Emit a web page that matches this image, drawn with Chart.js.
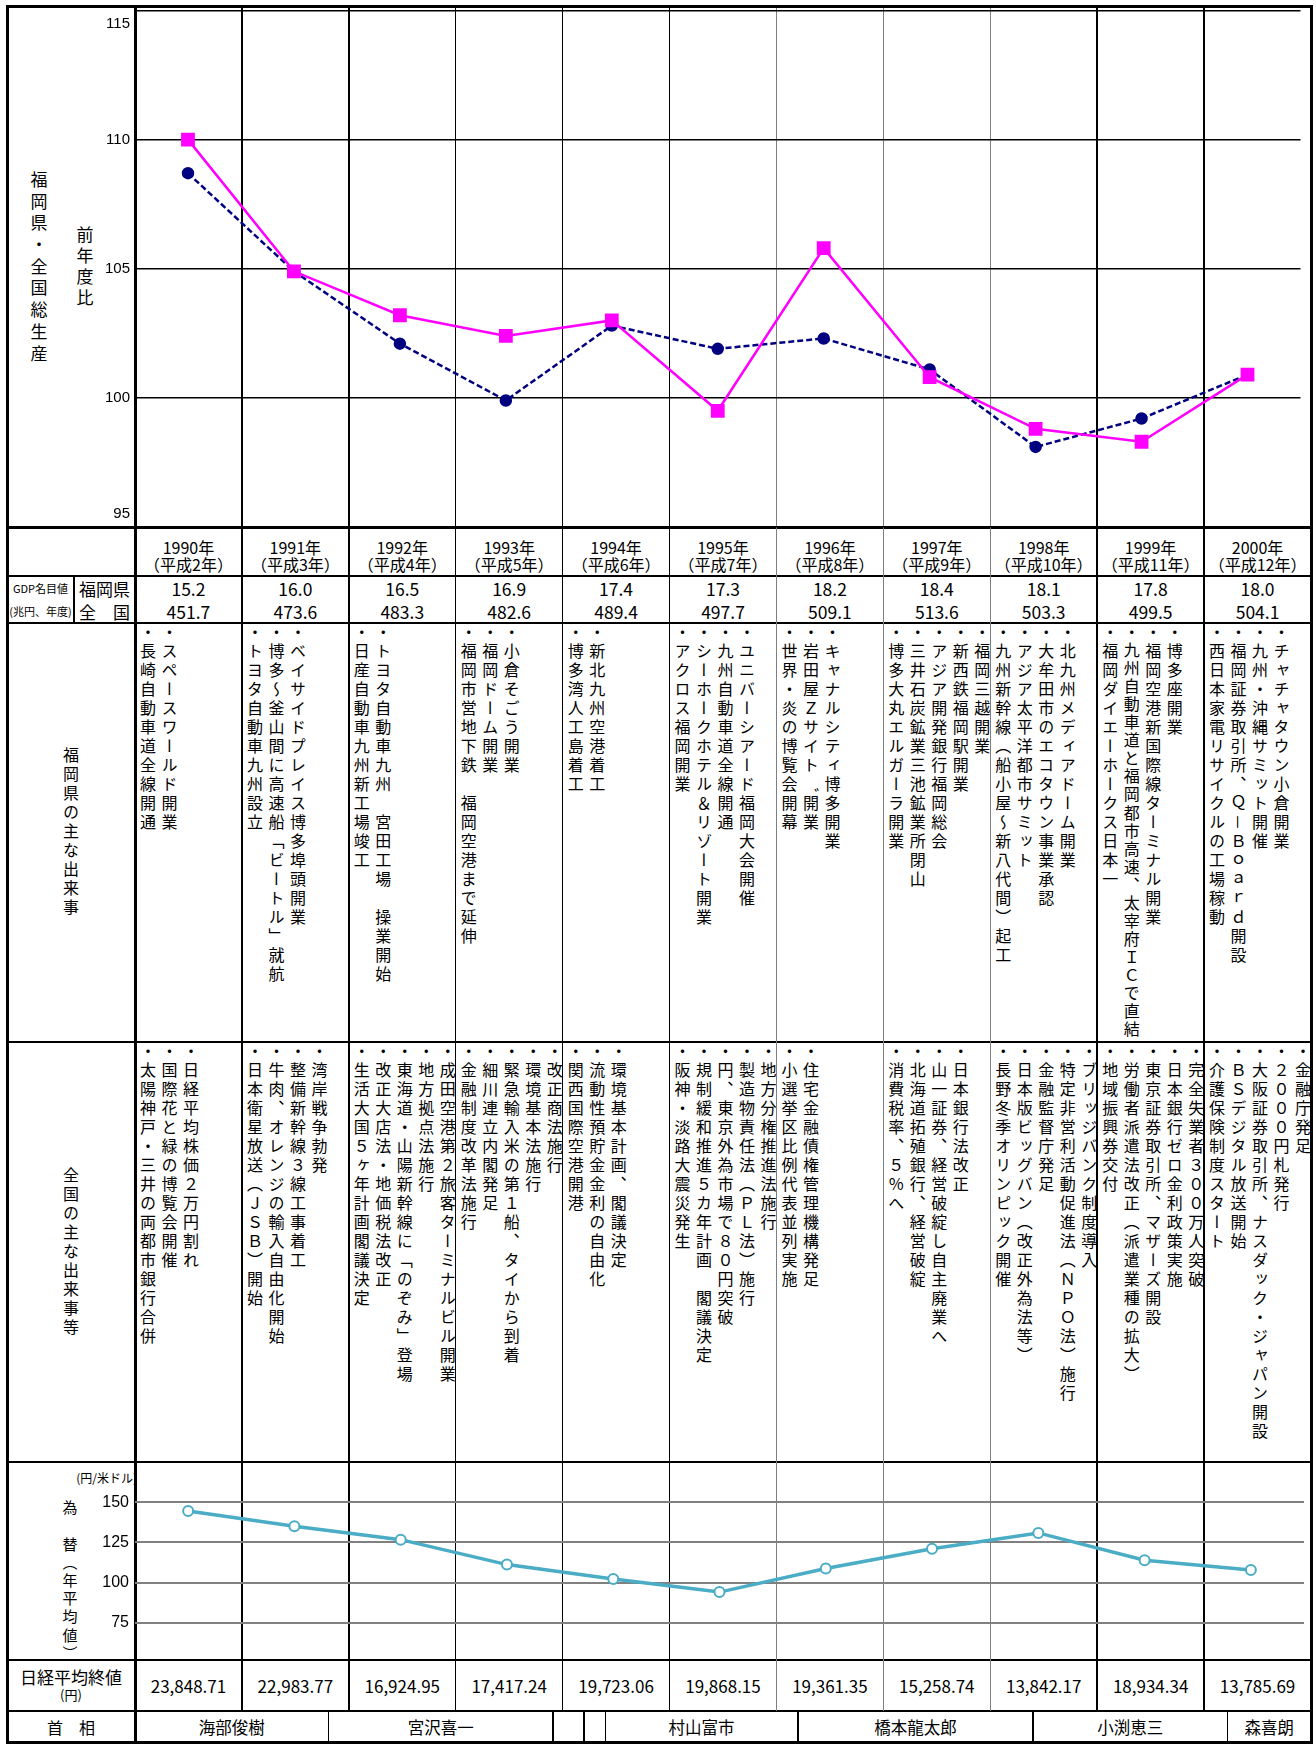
<!DOCTYPE html>
<html lang="ja">
<head>
<meta charset="UTF-8">
<title>福岡県・全国総生産と主な出来事</title>
<script src="https://cdn.jsdelivr.net/npm/chart.js"></script>
<style>
  html, body { margin: 0; padding: 0; background: #fff; }
  body { width: 1316px; height: 1744px; position: relative; overflow: hidden;
         font-family: "Noto Sans CJK JP", "Noto Sans", sans-serif; color: #000; }
  canvas { position: absolute; z-index: 3; }
  .ln { position: absolute; z-index: 2; }
  .cell { position: absolute; z-index: 1; }
  .ctr { display: flex; flex-direction: column; align-items: center; justify-content: center; text-align: center; }
  .vt { writing-mode: vertical-rl; position: absolute; top: 0; left: 0.5px; font-size: 16px;
        line-height: 21.5px; letter-spacing: 3px; white-space: nowrap; }
  .vt span { display: block; }
  .vlab { writing-mode: vertical-rl; position: absolute; white-space: nowrap; line-height: 1; }
</style>
</head>
<body>

<canvas id="growthChart" width="1304" height="540" style="left:7px; top:0px"></canvas>
<canvas id="fxChart" width="1304" height="220" style="left:7px; top:1450px"></canvas>

<script>
// ---- data ----
const years = ['1990年', '1991年', '1992年', '1993年', '1994年', '1995年', '1996年', '1997年', '1998年', '1999年', '2000年'];
const heisei = ['（平成2年）', '（平成3年）', '（平成4年）', '（平成5年）', '（平成6年）', '（平成7年）', '（平成8年）', '（平成9年）', '（平成10年）', '（平成11年）', '（平成12年）'];

// 前年度比 (%)
const fukuokaGrowth = [110.0, 104.9, 103.2, 102.4, 103.0, 99.5, 105.8, 100.8, 98.8, 98.3, 100.9];
const nationalGrowth = [108.7, 104.9, 102.1, 99.9, 102.8, 101.9, 102.3, 101.1, 98.1, 99.2, 100.9];
const growthTicks = [95, 100, 105, 110, 115];

// GDP名目値 (兆円、年度)
const gdpFukuoka = ['15.2', '16.0', '16.5', '16.9', '17.4', '17.3', '18.2', '18.4', '18.1', '17.8', '18.0'];
const gdpNational = ['451.7', '473.6', '483.3', '482.6', '489.4', '497.7', '509.1', '513.6', '503.3', '499.5', '504.1'];

const fukuokaEvents = [
  ['スペースワールド開業', '長崎自動車道全線開通'],
  ['ベイサイドプレイス博多埠頭開業', '博多～釜山間に高速船「ビートル」就航', 'トヨタ自動車九州設立'],
  ['トヨタ自動車九州　宮田工場　操業開始', '日産自動車九州新工場竣工'],
  ['小倉そごう開業', '福岡ドーム開業', '福岡市営地下鉄　福岡空港まで延伸'],
  ['新北九州空港着工', '博多湾人工島着工'],
  ['ユニバーシアード福岡大会開催', '九州自動車道全線開通', 'シーホークホテル＆リゾート開業', 'アクロス福岡開業'],
  ['キャナルシティ博多開業', '岩田屋Ｚサイト゛開業', '世界・炎の博覧会開幕'],
  ['福岡三越開業', '新西鉄福岡駅開業', 'アジア開発銀行福岡総会', '三井石炭鉱業三池鉱業所閉山', '博多大丸エルガーラ開業'],
  ['北九州メディアドーム開業', '大牟田市のエコタウン事業承認', 'アジア太平洋都市サミット', '九州新幹線（船小屋～新八代間）起工'],
  ['博多座開業', '福岡空港新国際線ターミナル開業', '九州自動車道と福岡都市高速、太宰府ＩＣで直結', '福岡ダイエーホークス日本一'],
  ['チャチャタウン小倉開業', '九州・沖縄サミット開催', '福岡証券取引所、Ｑ－Ｂｏａｒｄ開設', '西日本家電リサイクルの工場稼動']
];

const nationalEvents = [
  ['日経平均株価２万円割れ', '国際花と緑の博覧会開催', '太陽神戸・三井の両都市銀行合併'],
  ['湾岸戦争勃発', '整備新幹線３線工事着工', '牛肉、オレンジの輸入自由化開始', '日本衛星放送（ＪＳＢ）開始'],
  ['成田空港第２旅客ターミナルビル開業', '地方拠点法施行', '東海道・山陽新幹線に「のぞみ」登場', '改正大店法・地価税法改正', '生活大国５ヶ年計画閣議決定'],
  ['改正商法施行', '環境基本法施行', '緊急輸入米の第１船、タイから到着', '細川連立内閣発足', '金融制度改革法施行'],
  ['環境基本計画、閣議決定', '流動性預貯金金利の自由化', '関西国際空港開港'],
  ['地方分権推進法施行', '製造物責任法（ＰＬ法）施行', '円、東京外為市場で８０円突破', '規制緩和推進５カ年計画　閣議決定', '阪神・淡路大震災発生'],
  ['住宅金融債権管理機構発足', '小選挙区比例代表並列実施'],
  ['日本銀行法改正', '山一証券、経営破綻し自主廃業へ', '北海道拓殖銀行、経営破綻', '消費税率、５％へ'],
  ['ブリッジバンク制度導入', '特定非営利活動促進法（ＮＰＯ法）施行', '金融監督庁発足', '日本版ビッグバン（改正外為法等）', '長野冬季オリンピック開催'],
  ['完全失業者３００万人突破', '日本銀行ゼロ金利政策実施', '東京証券取引所、マザーズ開設', '労働者派遣法改正（派遣業種の拡大）', '地域振興券交付'],
  ['金融庁発足', '２０００円札発行', '大阪証券取引所、ナスダック・ジャパン開設', 'ＢＳデジタル放送開始', '介護保険制度スタート']
];

// 為替 (円/米ドル, 年平均値)
const fxRate = [144.5, 135.0, 126.7, 111.2, 102.2, 94.1, 108.8, 121.0, 130.9, 113.9, 107.8];
const fxTicks = [75, 100, 125, 150];

const nikkeiClose = ['23,848.71', '22,983.77', '16,924.95', '17,417.24', '19,723.06', '19,868.15', '19,361.35', '15,258.74', '13,842.17', '18,934.34', '13,785.69'];

// 首相 and the end of each term, counted in years from the start of 1990
const primeMinisters = ['海部俊樹', '宮沢喜一', '', '', '村山富市', '橋本龍太郎', '小渕恵三', '森喜朗'];
const pmTermEnds = [1.81, 3.91, 4.2, 4.4, 6.2, 8.4, 10.22, 11];

// ---- layout ----
const L0 = 7, AX = 135, R = 1311, COLW = (R - AX) / 11;
const Y = { top: 6, chart: 527, year: 576, gdp: 623, fuk: 1042, nat: 1462, fx: 1660, nik: 1711, bot: 1742 };
const body = document.body;

function add(cls, style, text) {
  const d = document.createElement('div');
  if (cls) d.className = cls;
  Object.assign(d.style, style);
  if (text != null) d.textContent = text;
  body.appendChild(d);
  return d;
}
const px = v => v + 'px';
function hline(y, x1, x2, w, color) {
  add('ln', { left: px(x1), top: px(y - w / 2), width: px(x2 - x1), height: px(w), background: color || '#000' });
}
function vline(x, y1, y2, w, color) {
  add('ln', { left: px(x - w / 2), top: px(y1), width: px(w), height: px(y2 - y1), background: color || '#000' });
}

// grid of the table
[Y.year, Y.gdp, Y.fuk, Y.nat, Y.fx, Y.nik].forEach(y => hline(y, L0, R, 2));
hline(Y.chart, L0, R, 3);
for (let i = 1; i <= 10; i++) {
  vline(AX + i * COLW, Y.top, Y.nik, 1.5, (i >= 6 && i <= 8) ? '#7f7f7f' : '#000');
}
vline(AX, Y.top, Y.bot, 3);
vline(74, Y.year, Y.gdp, 1.5);
pmTermEnds.slice(0, -1).forEach(e => vline(AX + e * COLW, Y.nik, Y.bot, 1.5));
add('ln', { left: px(L0 - 1.5), top: px(Y.top - 1.5), width: px(R - L0 + 3), height: px(Y.bot - Y.top + 3),
            border: '3px solid #000', boxSizing: 'border-box', background: 'transparent', zIndex: 4 });

// left titles
function vlabel(text, cx, top, fs, ls) {
  add('vlab', { left: px(cx - fs / 2), top: px(top), fontSize: px(fs), letterSpacing: px(ls) }, text);
}
vlabel('福岡県・全国総生産', 39, 171, 17, 4.7);
vlabel('前年度比', 85, 226, 17, 4);

function vcenter(text, y1, y2, fs, ls) {
  const c = add('cell ctr', { left: px(L0), top: px(y1), width: px(AX - L0), height: px(y2 - y1) });
  const s = document.createElement('div');
  Object.assign(s.style, { writingMode: 'vertical-rl', fontSize: px(fs), letterSpacing: px(ls), lineHeight: 1 });
  s.textContent = text;
  c.appendChild(s);
}
vcenter('福岡県の主な出来事', Y.gdp, Y.fuk, 16, 3);
vcenter('全国の主な出来事等', Y.fuk, Y.nat, 16, 3);

// GDP label
add('cell ctr', { left: px(L0), top: px(Y.year + 0.5), width: px(74 - L0), height: '23px', fontSize: '11px' }, 'GDP名目値');
add('cell ctr', { left: px(L0), top: px(Y.year + 23.5), width: px(74 - L0), height: '23px', fontSize: '11px' }, '(兆円、年度)');
add('cell ctr', { left: px(74), top: px(Y.year + 0.5), width: px(AX - 74), height: '23px', fontSize: '17px' }, '福岡県');
add('cell ctr', { left: px(74), top: px(Y.year + 23.5), width: px(AX - 74), height: '23px', fontSize: '17px' }, '全　国');

// columns
for (let i = 0; i < 11; i++) {
  const x = AX + i * COLW;
  const hd = add('cell ctr', { left: px(x), top: px(Y.chart), width: px(COLW), height: px(Y.year - Y.chart),
                               justifyContent: 'flex-start', paddingTop: '12px', boxSizing: 'border-box',
                               fontSize: '16px', lineHeight: '17px' });
  hd.innerHTML = years[i] + '<br>' + heisei[i];

  add('cell ctr', { left: px(x), top: px(Y.year + 0.5), width: px(COLW), height: '23px', fontSize: '17.5px' }, gdpFukuoka[i]);
  add('cell ctr', { left: px(x), top: px(Y.year + 23.5), width: px(COLW), height: '23px', fontSize: '17.5px' }, gdpNational[i]);

  [[fukuokaEvents[i], Y.gdp, Y.fuk], [nationalEvents[i], Y.fuk, Y.nat]].forEach(([items, y1, y2]) => {
    const c = add('cell', { left: px(x + 1), top: px(y1 + 1), width: px(COLW - 2), height: px(y2 - y1 - 2) });
    const v = document.createElement('div');
    v.className = 'vt';
    items.forEach(t => {
      const s = document.createElement('span');
      const n = t.length + 1;
      const ls = Math.min(3, (y2 - y1 - 6 - n * 16) / (n - 1));
      s.style.letterSpacing = px(ls);
      s.textContent = '・' + t;
      v.appendChild(s);
    });
    c.appendChild(v);
  });

  add('cell ctr', { left: px(x), top: px(Y.fx), width: px(COLW), height: px(Y.nik - Y.fx), fontSize: '17px' }, nikkeiClose[i]);
}

// FX labels
add('cell', { left: px(L0), top: px(1470), width: px(AX - L0 + 2), textAlign: 'right', fontSize: '12px', lineHeight: '16px' }, '(円/米ドル)');
vlabel('為\u3000替（年平均値）', 70, 1500, 15, 3.2);

// Nikkei and PM labels
const nk = add('cell ctr', { left: px(L0), top: px(Y.fx), width: px(AX - L0), height: px(Y.nik - Y.fx), lineHeight: '18px' });
nk.innerHTML = '<span style="font-size:17px">日経平均終値</span><span style="font-size:13px">(円)</span>';
add('cell ctr', { left: px(L0), top: px(Y.nik), width: px(AX - L0), height: px(Y.bot - Y.nik), fontSize: '16px' }, '首　相');
let prev = 0;
primeMinisters.forEach((name, k) => {
  const a = AX + prev * COLW, b = AX + pmTermEnds[k] * COLW;
  add('cell ctr', { left: px(a), top: px(Y.nik), width: px(b - a), height: px(Y.bot - Y.nik), fontSize: '16.5px' }, name);
  prev = pmTermEnds[k];
});

// ---- charts ----
const yLabels = {
  id: 'yLabels',
  afterDraw(chart, args, o) {
    const s = chart.scales.y, a = chart.chartArea, c = chart.ctx;
    c.save();
    c.font = o.font;
    c.fillStyle = '#000';
    c.textAlign = 'right';
    c.textBaseline = 'middle';
    o.values.forEach(v => {
      let y = s.getPixelForValue(v);
      y = Math.max(a.top + o.inset, Math.min(a.bottom - o.inset, y));
      c.fillText(String(v), a.left - o.pad, y);
    });
    c.restore();
  }
};

new Chart(document.getElementById('growthChart'), {
  type: 'line',
  data: {
    labels: years,
    datasets: [
      { label: '福岡県', data: fukuokaGrowth, borderColor: '#ff00ff', backgroundColor: '#ff00ff',
        borderWidth: 2.5, pointStyle: 'rect', pointRadius: 8, tension: 0 },
      { label: '全国', data: nationalGrowth, borderColor: '#000080', backgroundColor: '#000080',
        borderWidth: 2.5, borderDash: [6, 3], pointStyle: 'circle', pointRadius: 5, tension: 0 }
    ]
  },
  options: {
    responsive: false, animation: false,
    layout: { padding: { top: 6, bottom: 13 } },
    plugins: { legend: { display: false }, tooltip: { enabled: false },
               yLabels: { values: growthTicks, font: '15px "Liberation Sans"', inset: 13, pad: 5 } },
    scales: {
      x: { display: false, offset: true },
      y: { min: 95, max: 115, ticks: { stepSize: 5, display: false },
           grid: { color: '#000', lineWidth: 1.5, drawTicks: false }, border: { display: false },
           afterFit(s) { s.width = AX - L0; } }
    }
  },
  plugins: [yLabels]
});

new Chart(document.getElementById('fxChart'), {
  type: 'line',
  data: {
    labels: years,
    datasets: [
      { label: '為替', data: fxRate, borderColor: '#4bacc6', borderWidth: 3.5, tension: 0,
        pointRadius: 5, pointBorderWidth: 2, pointBackgroundColor: '#ffffff', pointBorderColor: '#4bacc6' }
    ]
  },
  options: {
    responsive: false, animation: false,
    layout: { padding: { top: 12, bottom: 6.5 } },
    plugins: { legend: { display: false }, tooltip: { enabled: false },
               yLabels: { values: fxTicks, font: '16px "Liberation Sans"', inset: 0, pad: 6 } },
    scales: {
      x: { display: false, offset: true },
      y: { min: 50, max: 175, ticks: { stepSize: 25, display: false },
           grid: { color: c => fxTicks.includes(c.tick.value) ? '#808080' : 'rgba(0,0,0,0)', lineWidth: 2, drawTicks: false },
           border: { display: false },
           afterFit(s) { s.width = AX - L0; } }
    }
  },
  plugins: [yLabels]
});
</script>
</body>
</html>
